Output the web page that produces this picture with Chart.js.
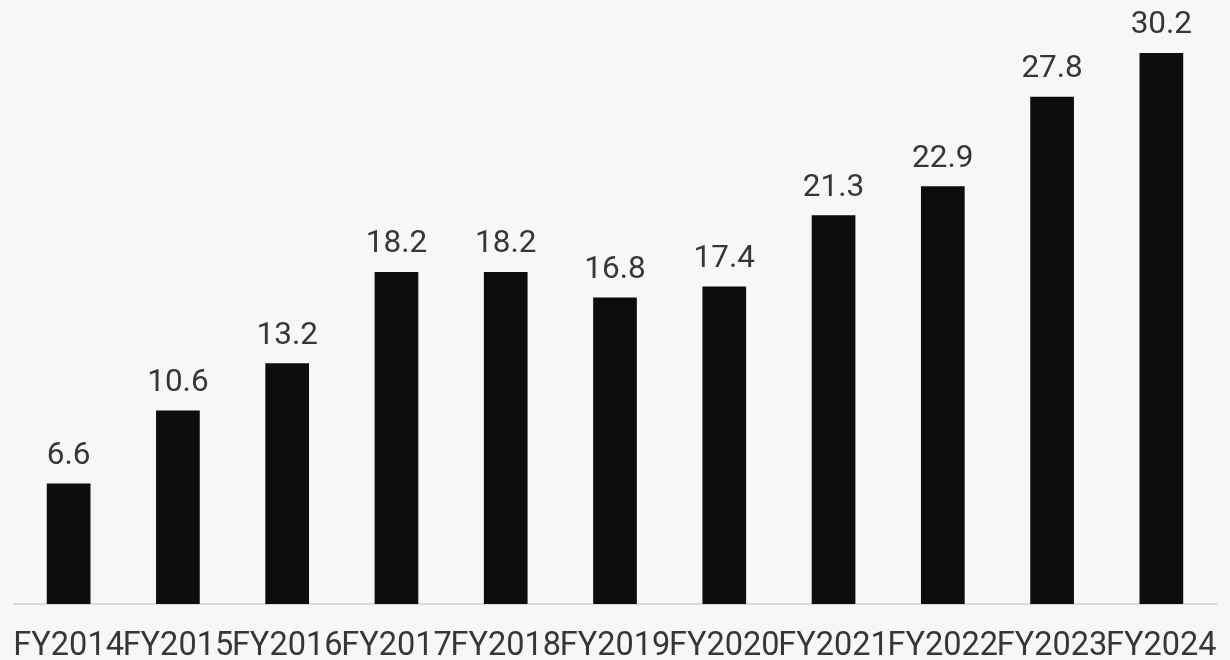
<!DOCTYPE html>
<html>
<head>
<meta charset="utf-8">
<script src="https://cdn.jsdelivr.net/npm/chart.js@4/dist/chart.umd.min.js"></script>
<style>
  html, body { margin: 0; padding: 0; background: #f7f7f7; }
  #wrap { width: 1230px; height: 660px; }
</style>
</head>
<body>
<div id="wrap"><canvas id="c" width="1230" height="660"></canvas></div>
<script>
const categories = ['FY2014','FY2015','FY2016','FY2017','FY2018','FY2019','FY2020','FY2021','FY2022','FY2023','FY2024'];
const values = [6.6, 10.6, 13.2, 18.2, 18.2, 16.8, 17.4, 21.3, 22.9, 27.8, 30.2];
const yMax = 33.1;

const textColor = '#363636';
const fontFamily = 'Roboto, "Noto Sans", sans-serif';

// Draws each bar's value just above its top
const valueLabels = {
  id: 'valueLabels',
  afterDatasetsDraw(chart) {
    const ctx = chart.ctx;
    const meta = chart.getDatasetMeta(0);
    ctx.save();
    ctx.font = '31.5px ' + fontFamily;
    ctx.fillStyle = textColor;
    ctx.textAlign = 'center';
    ctx.textBaseline = 'alphabetic';
    meta.data.forEach((bar, i) => {
      const v = chart.data.datasets[0].data[i];
      ctx.fillText(v.toFixed(1), bar.x, bar.y - 19.5);
    });
    ctx.restore();
  }
};

new Chart(document.getElementById('c'), {
  type: 'bar',
  data: {
    labels: categories,
    datasets: [{
      data: values,
      backgroundColor: '#0d0d0d',
      borderWidth: 0,
      categoryPercentage: 1,
      barPercentage: 0.4
    }]
  },
  options: {
    responsive: false,
    animation: false,
    events: [],
    layout: { padding: { left: 14, right: 14, top: 0, bottom: 0 } },
    plugins: { legend: { display: false }, tooltip: { enabled: false } },
    scales: {
      x: {
        grid: { display: false, drawTicks: false },
        border: { display: true, color: '#d9d9d9', width: 2 },
        ticks: {
          color: textColor,
          font: { family: fontFamily, size: 32.5 },
          autoSkip: false,
          minRotation: 0,
          maxRotation: 0,
          padding: 23
        },
        // labels sit edge to edge; keep the plot area full width
        afterFit(scale) {
          scale.height = 56;
          scale.paddingLeft = 0;
          scale.paddingRight = 0;
        }
      },
      y: {
        display: false,
        min: 0,
        max: yMax
      }
    }
  },
  plugins: [valueLabels]
});
</script>
</body>
</html>
